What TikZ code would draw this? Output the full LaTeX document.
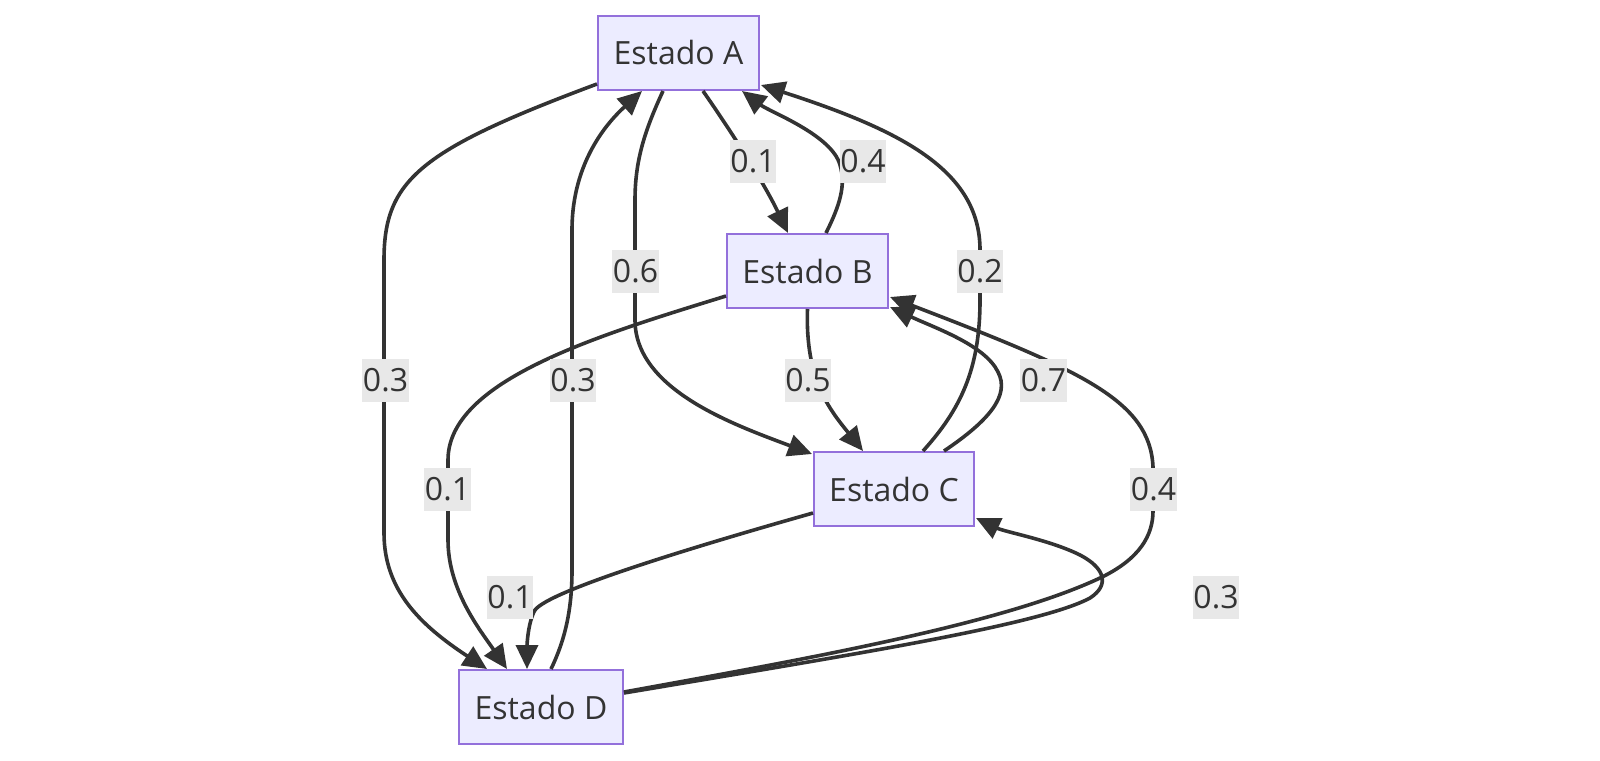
\documentclass[tikz,border=0pt]{standalone}
\usepackage{fontspec}
\setmainfont{Open Sans}
\usetikzlibrary{arrows.meta,calc}
\definecolor{nodefill}{HTML}{ECECFF}
\definecolor{nodeline}{HTML}{9370DB}
\definecolor{edgecol}{HTML}{333333}
\definecolor{lblfill}{HTML}{E8E8E8}
\begin{document}
\begin{tikzpicture}[x=1pt,y=-1pt,
  state/.style={draw=nodeline, fill=nodefill, line width=2pt, minimum width=161pt, minimum height=74pt, inner sep=0pt, text=edgecol, font=\fontsize{32}{38}\selectfont},
  edge/.style={draw=edgecol, line width=3.6pt, -{Triangle[length=24pt,width=22pt]}},
  lbl/.style={fill=lblfill, text=edgecol, inner xsep=0.5pt, inner ysep=0pt, minimum height=43pt, font=\fontsize{32}{38}\selectfont}]
\useasboundingbox (0,0) rectangle (1600,760);
\node[state] (A) at (678.5,53) {Estado A};
\node[state] (B) at (807.5,271) {Estado B};
\node[state, minimum width=160pt] (C) at (894,489) {Estado C};
\node[state, minimum width=164pt] (D) at (541,707) {Estado D};
% A -> D
\draw[edge] ($(A.south west)+(0,-7)$) .. controls (420,150) and (384,180) .. (384,260) -- (384,533) .. controls (384,590) and (420,625) .. ($(D.north)+(-54,0)$);
% D -> A
\draw[edge] ($(D.north)+(10,0)$) .. controls (565,640) and (572,610) .. (572,570) -- (572,230) .. controls (572,160) and (610,120) .. ($(A.south)+(-36.5,0)$);
% A -> C
\draw[edge] ($(A.south)+(-15.5,0)$) .. controls (645,130) and (635,160) .. (635,200) -- (635,320) .. controls (635,390) and (735,425) .. ($(C.north west)+(-1,3)$);
% A -> B
\draw[edge] ($(A.south)+(24.5,0)$) .. controls (735,137) and (765,185) .. ($(B.north)+(-19.5,0)$);
% B -> A
\draw[edge] ($(B.north)+(18.5,0)$) .. controls (840,205) and (846,185) .. (840,165) .. controls (832,135) and (770,112) .. ($(A.south)+(63.5,0)$);
% C -> A
\draw[edge] ($(C.north)+(29,0)$) .. controls (960,410) and (980,370) .. (980,300) -- (980,250) .. controls (980,170) and (900,130) .. ($(A.south east)+(1,-6)$);
% B -> C
\draw[edge] (B.south) .. controls (805,380) and (830,410) .. ($(C.north)+(-31,0)$);
% C -> B
\draw[edge] ($(C.north)+(50,0)$) .. controls (990,420) and (1010,395) .. (998,372) .. controls (985,345) and (935,328) .. ($(B.south east)+(1,-2)$);
% B -> D
\draw[edge] ($(B.south west)+(0,-13)$) .. controls (600,335) and (448,380) .. (448,460) -- (448,540) .. controls (448,590) and (480,630) .. ($(D.north)+(-34,0)$);
% C -> D
\draw[edge] ($(C.south west)+(0,-14)$) .. controls (700,545) and (550,590) .. (535,610) .. controls (528,622) and (527,645) .. ($(D.north)+(-14,0)$);
% D -> B
\draw[edge] ($(D.east)+(0,-15)$) .. controls (800,660) and (1000,625) .. (1100,578) .. controls (1140,559) and (1153,535) .. (1153,511) -- (1153,467) .. controls (1150,400) and (1080,370) .. ($(B.south east)+(1,-12)$);
% D -> C
\draw[edge] ($(D.east)+(0,-14)$) .. controls (850,655) and (1040,625) .. (1090,598) .. controls (1110,585) and (1105,568) .. (1080,555) .. controls (1050,540) and (1005,532) .. ($(C.south east)+(1,-9)$);
% labels
\node[lbl] (lAB) at (753,161.5) {0.1};
\node[lbl] (lBA) at (863,161.5) {0.4};
\node[lbl] (lAC) at (635.5,271) {0.6};
\node[lbl] (lCA) at (980,271) {0.2};
\node[lbl] (lBC) at (808,380) {0.5};
\node[lbl] (lCB) at (1043.5,380) {0.7};
\node[lbl] (lDB) at (1153.5,489) {0.4};
\node[lbl] (lAD) at (385.5,380) {0.3};
\node[lbl] (lDA) at (573,380) {0.3};
\node[lbl] (lBD) at (447.5,489) {0.1};
\node[lbl] (lCD) at (510,597.5) {0.1};
\node[lbl] (lDC) at (1216,597.5) {0.3};
\end{tikzpicture}
\end{document}
